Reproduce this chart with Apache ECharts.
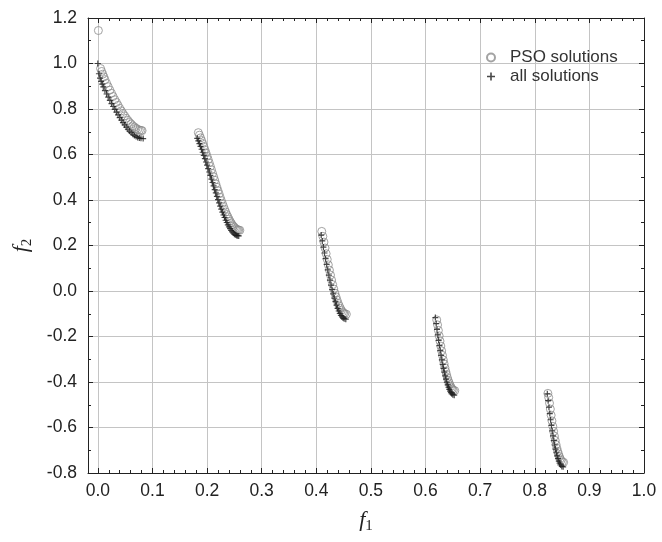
<!DOCTYPE html>
<html><head><meta charset="utf-8">
<script src="https://cdn.jsdelivr.net/npm/echarts@6/dist/echarts.min.js"></script>
<style>html,body{margin:0;padding:0;background:#fff}#c{width:662px;height:542px}</style>
</head><body><div id="c"></div>
<script>
// "all solutions" (+ markers)
const allF1 = [
  0, 0.002, 0.004, 0.006, 0.008, 0.010, 0.013, 0.016, 0.019, 0.022, 0.025, 0.028, 0.031, 0.034, 0.037, 0.040,
  0.043, 0.046, 0.049, 0.052, 0.055, 0.058, 0.061, 0.064, 0.067, 0.070, 0.073, 0.076, 0.079, 0.083,
  0.182, 0.184, 0.186, 0.188, 0.190, 0.192, 0.194, 0.196, 0.198, 0.200, 0.202, 0.204, 0.206, 0.208, 0.210,
  0.212, 0.214, 0.216, 0.218, 0.220, 0.222, 0.224, 0.226, 0.228, 0.230, 0.232, 0.234, 0.236, 0.238, 0.240,
  0.242, 0.244, 0.246, 0.248, 0.250, 0.252, 0.254, 0.256, 0.258,
  0.409, 0.411, 0.413, 0.415, 0.417, 0.419, 0.421, 0.423, 0.425, 0.427, 0.429, 0.431, 0.433, 0.435, 0.437,
  0.439, 0.441, 0.443, 0.445, 0.447, 0.449, 0.451, 0.454,
  0.618, 0.6195, 0.621, 0.6225, 0.624, 0.6255, 0.627, 0.6285, 0.630, 0.6315, 0.633, 0.6345, 0.636, 0.6375,
  0.639, 0.6405, 0.642, 0.6435, 0.645, 0.6465, 0.648, 0.650, 0.6525,
  0.823, 0.8245, 0.826, 0.8275, 0.829, 0.8305, 0.832, 0.8335, 0.835, 0.8365, 0.838, 0.8395, 0.841, 0.8425,
  0.844, 0.8455, 0.847, 0.8495, 0.852
];
const allF2 = [
  1.000, 0.955, 0.936, 0.921, 0.909, 0.897, 0.881, 0.866, 0.852, 0.838, 0.824, 0.811, 0.798, 0.786, 0.774, 0.762,
  0.751, 0.740, 0.730, 0.720, 0.711, 0.703, 0.696, 0.689, 0.684, 0.679, 0.675, 0.672, 0.671, 0.670,
  0.671, 0.660, 0.648, 0.636, 0.623, 0.610, 0.596, 0.582, 0.567, 0.553, 0.538, 0.523, 0.508, 0.492, 0.477,
  0.462, 0.446, 0.431, 0.416, 0.402, 0.387, 0.373, 0.360, 0.347, 0.334, 0.323, 0.311, 0.301, 0.291, 0.282,
  0.274, 0.266, 0.260, 0.255, 0.250, 0.247, 0.244, 0.243, 0.242,
  0.246, 0.220, 0.193, 0.167, 0.142, 0.117, 0.093, 0.070, 0.048, 0.026, 0.006, -0.013, -0.031, -0.047, -0.062,
  -0.076, -0.088, -0.098, -0.107, -0.114, -0.119, -0.122, -0.124,
  -0.117, -0.143, -0.169, -0.193, -0.217, -0.240, -0.262, -0.283, -0.303, -0.323, -0.340, -0.357, -0.373, -0.387,
  -0.401, -0.413, -0.423, -0.432, -0.440, -0.447, -0.452, -0.456, -0.458,
  -0.452, -0.482, -0.511, -0.539, -0.566, -0.591, -0.615, -0.637, -0.658, -0.677, -0.695, -0.711, -0.725, -0.737,
  -0.748, -0.757, -0.764, -0.771, -0.773
];
// "PSO solutions" (open circles)
const psoF1 = [
  0.001,
  0.005, 0.007, 0.009, 0.011, 0.013, 0.016, 0.019, 0.022, 0.025, 0.028, 0.031, 0.034, 0.037, 0.040, 0.043,
  0.046, 0.049, 0.052, 0.055, 0.058, 0.061, 0.064, 0.067, 0.070, 0.073, 0.076, 0.079, 0.081,
  0.184, 0.186, 0.188, 0.190, 0.192, 0.194, 0.196, 0.198, 0.200, 0.202, 0.204, 0.206, 0.208, 0.210, 0.212,
  0.214, 0.216, 0.218, 0.220, 0.222, 0.224, 0.226, 0.228, 0.230, 0.232, 0.234, 0.236, 0.238, 0.240, 0.242,
  0.244, 0.246, 0.248, 0.250, 0.252, 0.254, 0.256, 0.258, 0.260,
  0.410, 0.412, 0.414, 0.416, 0.418, 0.420, 0.422, 0.424, 0.426, 0.428, 0.430, 0.432, 0.434, 0.436, 0.438,
  0.440, 0.442, 0.444, 0.446, 0.448, 0.450, 0.452, 0.455,
  0.6205, 0.622, 0.6235, 0.625, 0.6265, 0.628, 0.6295, 0.631, 0.6325, 0.634, 0.6355, 0.637, 0.6385,
  0.640, 0.6415, 0.643, 0.6445, 0.646, 0.6475, 0.649, 0.651, 0.6535,
  0.824, 0.8255, 0.827, 0.8285, 0.830, 0.8315, 0.833, 0.8345, 0.836, 0.8375, 0.839, 0.8405, 0.842, 0.8435,
  0.845, 0.8465, 0.848, 0.8505, 0.8528
];
const psoF2 = [
  1.145,
  0.978, 0.965, 0.953, 0.941, 0.929, 0.913, 0.898, 0.883, 0.869, 0.855, 0.841, 0.829, 0.816, 0.803, 0.792,
  0.780, 0.770, 0.759, 0.750, 0.741, 0.734, 0.726, 0.721, 0.715, 0.711, 0.707, 0.706, 0.705,
  0.696, 0.685, 0.673, 0.661, 0.648, 0.635, 0.621, 0.607, 0.592, 0.578, 0.563, 0.548, 0.533, 0.517, 0.502,
  0.487, 0.471, 0.456, 0.441, 0.427, 0.412, 0.398, 0.385, 0.372, 0.359, 0.347, 0.336, 0.326, 0.316, 0.307,
  0.299, 0.291, 0.285, 0.280, 0.275, 0.271, 0.269, 0.268, 0.267,
  0.262, 0.240, 0.215, 0.189, 0.164, 0.139, 0.115, 0.092, 0.070, 0.048, 0.028, 0.009, -0.009, -0.025, -0.040,
  -0.054, -0.066, -0.076, -0.085, -0.092, -0.097, -0.100, -0.102,
  -0.127, -0.149, -0.173, -0.197, -0.220, -0.242, -0.263, -0.283, -0.303, -0.320, -0.337, -0.353, -0.367,
  -0.381, -0.393, -0.403, -0.412, -0.420, -0.427, -0.432, -0.436, -0.438,
  -0.450, -0.468, -0.493, -0.519, -0.546, -0.571, -0.595, -0.617, -0.638, -0.657, -0.675, -0.691, -0.705, -0.717,
  -0.728, -0.737, -0.744, -0.751, -0.753
];
const xTickValues = [0, 0.1, 0.2, 0.3, 0.4, 0.5, 0.6, 0.7, 0.8, 0.9, 1.0];
const seriesNames = ['PSO solutions', 'all solutions'];

const xMinor = [];
for (let k = 1; k < 50; k++) if (k % 5) xMinor.push(k / 50);

const AX = '#222';
const LBL = { fontFamily: 'Liberation Sans', fontSize: 17.5, color: '#222' };
const X_MIN = -0.018, X_MAX = 1.0;
const NAME_RICH = {
  i: { fontFamily: 'Liberation Serif', fontStyle: 'italic', fontSize: 22, color: '#222' },
  s: { fontFamily: 'Liberation Serif', fontSize: 15, color: '#222', padding: [12, 0, 0, 0] }
};

function xAx(pos, main, minor) {
  return {
    type: 'value', position: pos, min: X_MIN, max: X_MAX,
    axisLine: { show: main, onZero: false, lineStyle: { color: AX, width: 1 } },
    axisTick: { show: true, inside: true, length: minor ? 3 : 5, customValues: minor ? xMinor : xTickValues, lineStyle: { color: AX } },
    axisLabel: Object.assign({ show: pos === 'bottom' && main, margin: 9, customValues: xTickValues, formatter: v => v.toFixed(1) }, LBL),
    splitLine: { show: pos === 'bottom' && main, lineStyle: { color: '#c4c4c4', width: 1 } },
    name: (pos === 'bottom' && main) ? '{i|f}{s|1}' : '',
    nameLocation: 'middle', nameGap: 34,
    nameTextStyle: { rich: NAME_RICH }
  };
}
function yAx(pos, main) {
  return {
    type: 'value', position: pos, min: -0.8, max: 1.2, interval: 0.2,
    axisLine: { show: true, onZero: false, lineStyle: { color: AX, width: 1 } },
    axisTick: { show: true, inside: true, length: 5, lineStyle: { color: AX } },
    minorTick: { show: true, splitNumber: 2, length: 3, lineStyle: { color: AX } },
    axisLabel: Object.assign({ show: main, margin: 11, formatter: v => v.toFixed(1) }, LBL),
    splitLine: { show: main, lineStyle: { color: '#c4c4c4', width: 1 } },
    name: main ? '{i|f}{s|2}' : '',
    nameLocation: 'middle', nameGap: 53,
    nameTextStyle: { rich: NAME_RICH }
  };
}

const plusPath = 'path://M4,0H6V4H10V6H6V10H4V6H0V4H4Z';

const chart = echarts.init(document.getElementById('c'), null, { renderer: 'canvas' });
chart.setOption({
  animation: false,
  backgroundColor: '#fff',
  grid: { left: 88, right: 18, top: 18, bottom: 69, containLabel: false },
  legend: {
    orient: 'vertical', left: 481, top: 44, itemWidth: 28, itemHeight: 8, itemGap: 2,
    textStyle: { fontFamily: 'Liberation Sans', fontSize: 17, color: '#333', lineHeight: 17 },
    data: seriesNames
  },
  xAxis: [xAx('bottom', true, false), xAx('top', true, false), xAx('bottom', false, true), xAx('top', false, true)],
  yAxis: [yAx('left', true), yAx('right', false)],
  series: [
    {
      name: seriesNames[0], type: 'scatter', xAxisIndex: 0, yAxisIndex: 0,
      symbol: 'circle', symbolSize: 8,
      itemStyle: { color: 'rgba(255,255,255,0)', borderColor: '#8c8c8c', borderWidth: 1 },
      data: psoF1.map((x, i) => [x, psoF2[i]])
    },
    {
      name: seriesNames[1], type: 'scatter', xAxisIndex: 0, yAxisIndex: 0,
      symbol: plusPath, symbolSize: 6,
      itemStyle: { color: '#1a1a1a' },
      data: allF1.map((x, i) => [x, allF2[i]])
    }
  ]
});
</script></body></html>
